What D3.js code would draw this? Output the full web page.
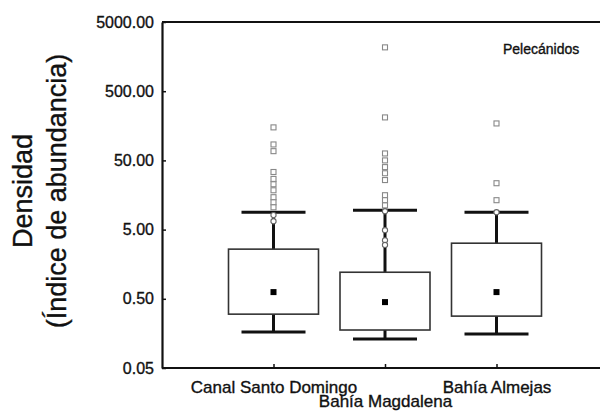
<!DOCTYPE html>
<html>
<head>
<meta charset="utf-8">
<script src="https://cdn.jsdelivr.net/npm/d3@7"></script>
<style>
  html, body { margin: 0; padding: 0; background: #fff; }
  svg { display: block; font-family: "Liberation Sans", Arial, sans-serif; }
  text { stroke: #111; stroke-width: 0.35px; }
</style>
</head>
<body>
<svg id="chart" width="600" height="412"></svg>
<script>
// Sites sampled
const categories = ["Canal Santo Domingo", "Bahía Magdalena", "Bahía Almejas"];
// Box limits (25th and 75th percentiles)
const boxLow  = [0.30, 0.177, 0.281];
const boxHigh = [2.61, 1.21, 3.18];
// Central value marker
const centers = [0.625, 0.448, 0.625];
// Whisker ends (non-outlier range)
const whiskerLow  = [0.165, 0.131, 0.155];
const whiskerHigh = [8.9, 9.5, 8.9];
// Outliers (circles) and extremes (squares) per site
const outliers = [
  [8.1, 6.6],
  [9.2, 4.9, 3.5, 3.0],
  [8.9]
];
const extremes = [
  [150, 85, 68, 34, 27, 22.6, 18.5, 14.7, 12.4, 10.5],
  [2150, 209, 63, 50, 40, 32.6, 26, 15.7, 13.3, 11.2],
  [171, 23.4, 13.3]
];
const yTicks = [0.05, 0.5, 5, 50, 500, 5000];

const svg = d3.select("#chart");
const plotLeft = 162, plotTop = 22, plotBottom = 368, plotRight = 600;

const x = d3.scalePoint().domain(categories).range([plotLeft, 608]).padding(1);
const y = d3.scaleLog().domain([0.05, 5000]).range([plotBottom, plotTop]);

const boxW = 90, capW = 64;

// Frame: top border
svg.append("line")
  .attr("x1", plotLeft).attr("x2", plotRight).attr("y1", plotTop).attr("y2", plotTop)
  .attr("stroke", "#111").attr("stroke-width", 2.2);

// Y axis
const yAxis = svg.append("g")
  .attr("transform", `translate(${plotLeft},0)`)
  .call(d3.axisLeft(y).tickValues(yTicks).tickFormat(d3.format(".2f")).tickSizeInner(-4).tickSizeOuter(0).tickPadding(8));
yAxis.select(".domain").attr("stroke", "#111").attr("stroke-width", 2.2);
yAxis.selectAll(".tick line").attr("stroke", "#111").attr("stroke-width", 1.5);
yAxis.selectAll(".tick text").attr("font-size", 16).attr("fill", "#111");

// X axis, middle label on a second row
const xAxis = svg.append("g")
  .attr("transform", `translate(0,${plotBottom})`)
  .call(d3.axisBottom(x).tickSizeInner(-4).tickSizeOuter(0).tickPadding(6));
xAxis.select(".domain").attr("stroke", "#111").attr("stroke-width", 2.2)
  .attr("d", `M${plotLeft},0H${plotRight}`);
xAxis.selectAll(".tick line").attr("stroke", "#111").attr("stroke-width", 1.5);
xAxis.selectAll(".tick text")
  .attr("font-size", 17).attr("fill", "#111")
  .attr("dy", (d, i) => i === 1 ? "1.92em" : "1.1em");

// Boxes
const g = svg.append("g");
categories.forEach((c, i) => {
  const cx = x(c);
  // whiskers
  g.append("line").attr("x1", cx).attr("x2", cx)
    .attr("y1", y(boxHigh[i])).attr("y2", y(whiskerHigh[i]))
    .attr("stroke", "#111").attr("stroke-width", 3);
  g.append("line").attr("x1", cx).attr("x2", cx)
    .attr("y1", y(boxLow[i])).attr("y2", y(whiskerLow[i]))
    .attr("stroke", "#111").attr("stroke-width", 3);
  [whiskerHigh[i], whiskerLow[i]].forEach(v => {
    g.append("line").attr("x1", cx - capW / 2).attr("x2", cx + capW / 2)
      .attr("y1", y(v)).attr("y2", y(v))
      .attr("stroke", "#111").attr("stroke-width", 3);
  });
  // box
  g.append("rect")
    .attr("x", cx - boxW / 2).attr("y", y(boxHigh[i]))
    .attr("width", boxW).attr("height", y(boxLow[i]) - y(boxHigh[i]))
    .attr("fill", "#fff").attr("stroke", "#333").attr("stroke-width", 1.6);
  // centre marker
  g.append("rect")
    .attr("x", cx - 3).attr("y", y(centers[i]) - 3)
    .attr("width", 6).attr("height", 6).attr("fill", "#000");
  // extremes
  extremes[i].forEach(v => {
    g.append("rect")
      .attr("x", cx - 2.5).attr("y", y(v) - 2.5)
      .attr("width", 5).attr("height", 5)
      .attr("fill", "#fff").attr("stroke", "#888").attr("stroke-width", 1.1);
  });
  // outliers
  outliers[i].forEach(v => {
    g.append("circle")
      .attr("cx", cx).attr("cy", y(v)).attr("r", 2.6)
      .attr("fill", "#fff").attr("stroke", "#666").attr("stroke-width", 1.1);
  });
});

// Panel title
svg.append("text").attr("x", 503).attr("y", 54)
  .attr("font-size", 14).attr("fill", "#111")
  .text("Pelecánidos");

// Y axis title
const yt = svg.append("text")
  .attr("transform", "translate(0,191) rotate(-90)")
  .attr("text-anchor", "middle").attr("font-size", 27).attr("fill", "#111");
yt.append("tspan").attr("x", 0).attr("y", 32).text("Densidad");
yt.append("tspan").attr("x", 0).attr("y", 66).text("(Índice de abundancia)");
</script>
</body>
</html>
